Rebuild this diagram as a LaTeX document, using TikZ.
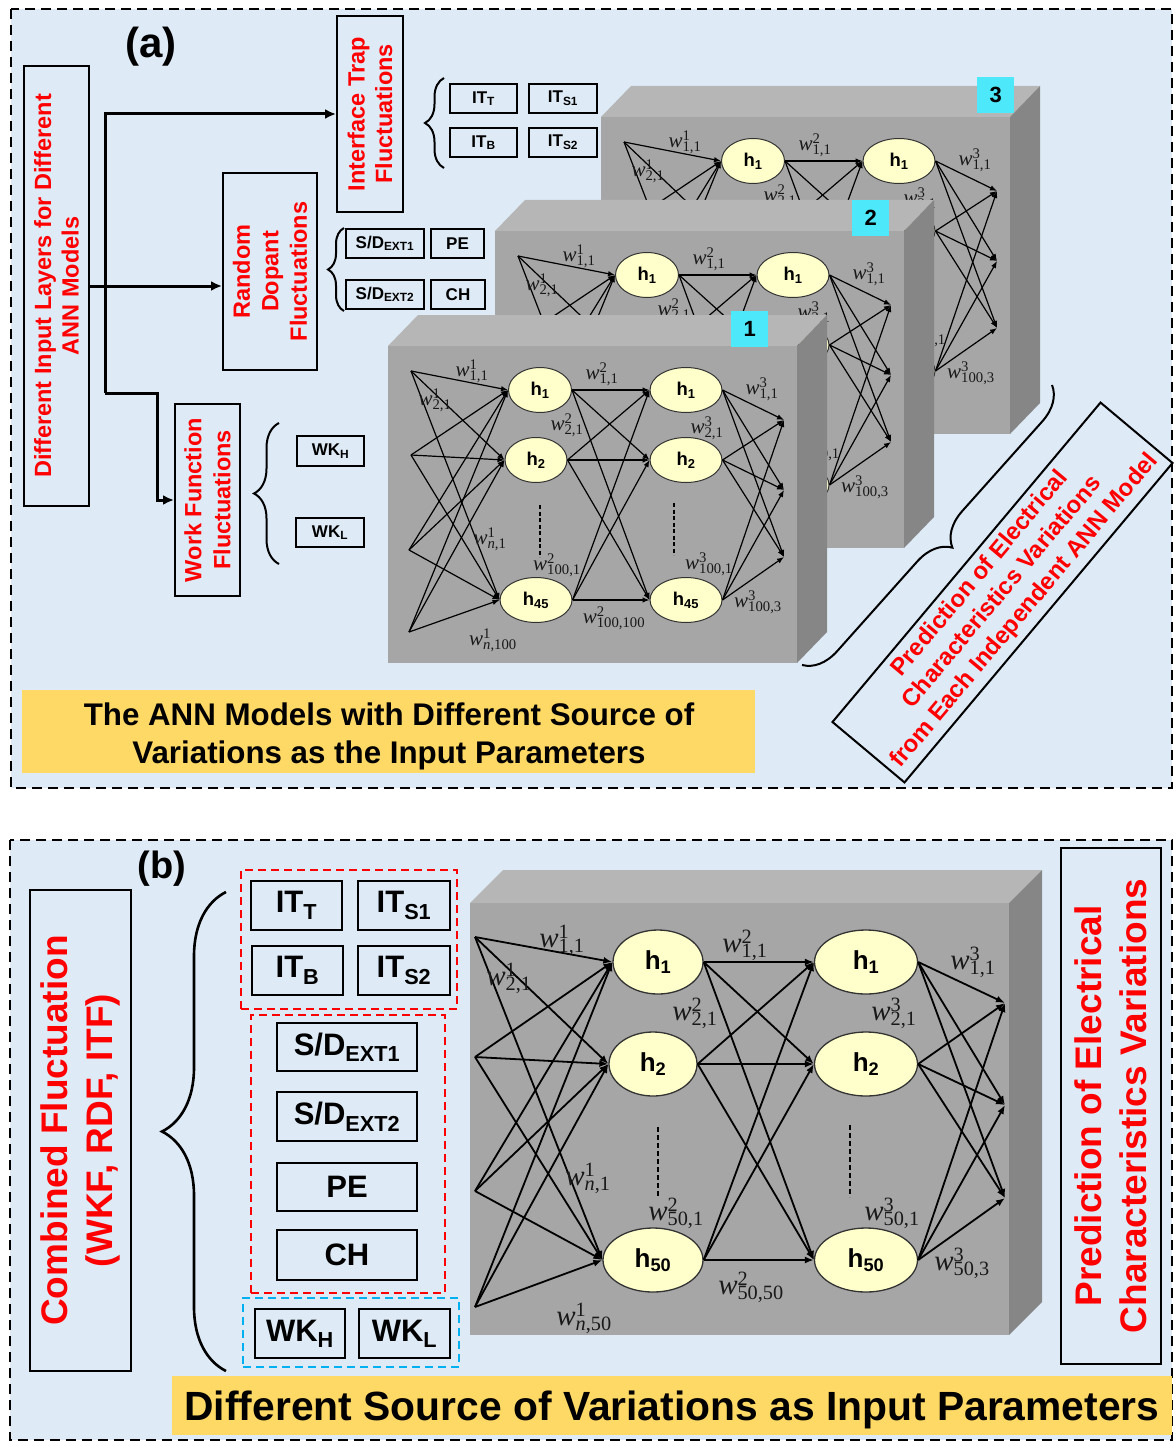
\documentclass[tikz,border=0pt]{standalone}
\usepackage[no-math]{fontspec}
\setmainfont{Liberation Sans}
\newfontfamily\wserif{Liberation Serif}
\usetikzlibrary{arrows.meta,decorations.pathreplacing,shapes.geometric}

\definecolor{panelbg}{HTML}{DEEBF7}
\definecolor{capyellow}{HTML}{FFD966}
\definecolor{cubefront}{RGB}{166,166,166}
\definecolor{cubetop}{RGB}{182,182,182}
\definecolor{cubeside}{RGB}{134,134,134}
\definecolor{nodefill}{RGB}{255,255,204}
\definecolor{tagcyan}{RGB}{77,233,250}
\definecolor{wkblue}{RGB}{0,176,240}
\definecolor{wtext}{RGB}{25,25,25}

\newcommand{\fsz}[2]{\fontsize{#1}{#2}\selectfont}
% weight label: italic w with stacked layer index and link index
\newcommand{\wl}[2]{{\wserif\textit{w}\rlap{\textsuperscript{#1}}\textsubscript{#2}}}

\tikzset{
  panel/.style={fill=panelbg, draw=black, line width=2pt, dash pattern=on 10pt off 6pt},
  vbox/.style={draw=black, line width=2pt, rotate=90, align=center, text=red,
    font=\bfseries\fsz{23.5}{27.5}, inner sep=0pt},
  sboxA/.style={draw=black, line width=2pt, font=\bfseries\fsz{17}{20}, inner sep=0pt},
  sboxB/.style={draw=black, line width=2.6pt, font=\bfseries\fsz{31}{36}, inner sep=0pt},
  trunk/.style={line width=3pt},
  trunkarrow/.style={trunk, -{Latex[length=11pt,width=10pt]}},
  hnodeA/.style={ellipse, draw=black!80, line width=1pt, fill=nodefill, inner sep=0pt,
    minimum height=45, font=\bfseries\fsz{18.5}{20}},
  hnodeB/.style={ellipse, draw=black!80, line width=1.3pt, fill=nodefill, inner sep=0pt,
    minimum height=64, font=\bfseries\fsz{26}{28}},
  edgeA/.style={line width=1.2pt, -{Latex[length=7pt,width=5.5pt]}},
  edgeB/.style={line width=1.8pt, -{Latex[length=9pt,width=7pt]}},
  wA/.style={font=\fsz{21}{22}, text=wtext, inner sep=0pt},
  wB/.style={font=\fsz{29}{30}, text=wtext, inner sep=0pt},
  dotsA/.style={line width=1.3pt, dash pattern=on 4pt off 2.5pt},
  dotsB/.style={line width=1.8pt, dash pattern=on 5pt off 3pt},
  tag/.style={fill=tagcyan, font=\bfseries\fsz{22}{24}, minimum width=37, minimum height=36,
    inner sep=0pt, anchor=north west},
  brc/.style={decorate, decoration={brace, amplitude=#1}, line width=2pt},
  grp/.style={line width=2pt, dash pattern=on 8pt off 5pt, inner sep=0pt},
  capbox/.style={fill=capyellow, inner sep=0pt},
}

% one gray box of panel (a) with its network, drawn in the frame of the front box
\newcommand{\cubeA}[4]{%
  \fill[cubetop] (388,346) -- (418,315) -- (827,315) -- (797,346) -- cycle;
  \fill[cubeside] (797,346) -- (827,315) -- (827,632) -- (797,663) -- cycle;
  \fill[cubefront] (388,346) rectangle (797,663);
  \node[tag] (#1tag) at (#3,#4) {#2};
  \coordinate (#1i1) at (411,371);
  \coordinate (#1i2) at (411,455);
  \coordinate (#1i3) at (409,550);
  \coordinate (#1i4) at (409,632);
  \node[hnodeA, minimum width=63] (#1p1) at (540,390) {h\textsubscript{1}};
  \node[hnodeA, minimum width=62] (#1p2) at (536,460) {h\textsubscript{2}};
  \node[hnodeA, minimum width=72] (#1p3) at (536,600) {h\textsubscript{45}};
  \node[hnodeA, minimum width=72] (#1q1) at (686,390) {h\textsubscript{1}};
  \node[hnodeA, minimum width=72] (#1q2) at (686,460) {h\textsubscript{2}};
  \node[hnodeA, minimum width=72] (#1q3) at (686,600) {h\textsubscript{45}};
  \coordinate (#1o1) at (784,420);
  \coordinate (#1o2) at (784,490);
  \coordinate (#1o3) at (784,557);
  \foreach \s in {1,...,4}{\foreach \t in {1,2,3}{\draw[edgeA] (#1i\s) -- (#1p\t.west);}}
  \foreach \s in {1,2,3}{\foreach \t in {1,2,3}{\draw[edgeA] (#1p\s.east) -- (#1q\t.west);}}
  \foreach \s in {1,2,3}{\foreach \t in {1,2,3}{\draw[edgeA] (#1q\s.east) -- (#1o\t);}}
  \draw[dotsA] (540,505) -- (540,557);
  \draw[dotsA] (674,503) -- (674,555);
  \node[wA] (#1w1) at (472,371) {\wl{1}{1,1}};
  \node[wA] (#1w2) at (435,400) {\wl{1}{2,1}};
  \node[wA] (#1w3) at (602,374) {\wl{2}{1,1}};
  \node[wA] (#1w4) at (567,425) {\wl{2}{2,1}};
  \node[wA] (#1w5) at (762,389) {\wl{3}{1,1}};
  \node[wA] (#1w6) at (707,428) {\wl{3}{2,1}};
  \node[wA] (#1w7) at (490,539) {\wl{1}{\textit{n},1}};
  \node[wA] (#1w8) at (557,565) {\wl{2}{100,1}};
  \node[wA] (#1w9) at (709,564) {\wl{3}{100,1}};
  \node[wA] (#1w10) at (758,602) {\wl{3}{100,3}};
  \node[wA] (#1w11) at (614,618) {\wl{2}{100,100}};
  \node[wA] (#1w12) at (493,640) {\wl{1}{\textit{n},100}};
}

\begin{document}
\begin{tikzpicture}[x=1pt,y=-1pt]
\useasboundingbox (0,0) rectangle (1175,1442);
\fill[white] (0,0) rectangle (1175,1442);

%% ---------------- panel (a) ----------------
\draw[panel] (11,9) rectangle (1172,788);
\node[font=\bfseries\fsz{42}{46}] (labA) at (151,47) {(a)};

\node[vbox, minimum width=440, minimum height=65] (dil) at (56.5,286)
  {Different Input Layers for Different\\ANN Models};
\node[vbox, minimum width=196, minimum height=66] (itf) at (370,114)
  {Interface Trap\\Fluctuations};
\node[vbox, minimum width=197, minimum height=94, font=\bfseries\fsz{23.5}{28.5}] (rdf) at (270,271.5)
  {Random\\Dopant\\Fluctuations};
\node[vbox, minimum width=192, minimum height=65, font=\bfseries\fsz{23.5}{29}] (wkf) at (207.5,500)
  {Work Function\\Fluctuations};

% feeding lines
\coordinate (tTop) at (105,114);
\coordinate (tMid) at (105,286);
\coordinate (tBot) at (105,393);
\coordinate (tBend) at (157,393);
\draw[trunkarrow] (tBot) -- (tTop) -- (itf.north |- tTop);
\draw[trunkarrow] (dil.south |- tMid) -- (rdf.north |- tMid);
\draw[trunkarrow] (tBot) -- (tBend) -- (tBend |- wkf.north) -- (wkf.north);

% parameter boxes of each fluctuation source
\node[sboxA, minimum width=67, minimum height=29] (aitT) at (483.5,98.5) {IT\textsubscript{T}};
\node[sboxA, minimum width=68, minimum height=29] (aitS1) at (563,98.5) {IT\textsubscript{S1}};
\node[sboxA, minimum width=67, minimum height=29] (aitB) at (483.5,142.5) {IT\textsubscript{B}};
\node[sboxA, minimum width=68, minimum height=29] (aitS2) at (563,142.5) {IT\textsubscript{S2}};
\node[sboxA, minimum width=78, minimum height=29] (asd1) at (385,243.5) {S/D\textsubscript{EXT1}};
\node[sboxA, minimum width=53, minimum height=29] (ape) at (457.5,243.5) {PE};
\node[sboxA, minimum width=78, minimum height=29] (asd2) at (385,294.5) {S/D\textsubscript{EXT2}};
\node[sboxA, minimum width=54, minimum height=29] (ach) at (458,294.5) {CH};
\node[sboxA, minimum width=67, minimum height=30] (awkH) at (330.5,451) {WK\textsubscript{H}};
\node[sboxA, minimum width=68, minimum height=29] (awkL) at (330,532.5) {WK\textsubscript{L}};

\coordinate (bIT1) at (444,168); \coordinate (bIT2) at (444,78);
\coordinate (bRD1) at (344,311); \coordinate (bRD2) at (344,228);
\coordinate (bWK1) at (279,564); \coordinate (bWK2) at (279,423);
\draw[brc=19] (bIT1) -- (bIT2);
\draw[brc=16] (bRD1) -- (bRD2);
\draw[brc=25] (bWK1) -- (bWK2);

% three independent ANN models, back to front
\begin{scope}[shift={(213,-229)}]
  \cubeA{cc}{3}{764}{306}
\end{scope}
\begin{scope}[shift={(107,-115)}]
  \cubeA{cb}{2}{745}{315}
\end{scope}
\cubeA{ca}{1}{731}{311}

% outputs of the three models
\coordinate (bOut1) at (1052,385); \coordinate (bOut2) at (802,665);
\draw[brc=34] (bOut1) -- (bOut2);
\node[draw=black, line width=2pt, rotate=50, minimum width=417, minimum height=94, align=center,
  text=red, font=\bfseries\fsz{24}{29}, inner sep=0pt] (predA) at (1002.5,592.5)
  {Prediction of Electrical\\Characteristics Variations\\from Each Independent ANN Model};

\node[capbox, minimum width=733, minimum height=83] (capA) at (388.5,731.5) {};
\node[align=center, inner sep=0pt, font=\bfseries\fsz{31.3}{38}] (capAtext) at (389,736)
  {The ANN Models with Different Source of\\Variations as the Input Parameters};

%% ---------------- panel (b) ----------------
\draw[panel] (10,840) rectangle (1172,1440);
\node[font=\bfseries\fsz{38}{42}] (labB) at (162,869) {(b)};

\node[draw=black, line width=2.6pt, rotate=90, align=center, text=red, inner sep=0pt,
  minimum width=481, minimum height=101, font=\bfseries\fsz{37}{45}] (comb) at (80.5,1130.5)
  {Combined Fluctuation\\(WKF, RDF, ITF)};
\coordinate (bCb1) at (226,1371); \coordinate (bCb2) at (226,892);
\draw[brc=64, line width=2.6pt] (bCb1) -- (bCb2);

\node[grp, draw=red, minimum width=216, minimum height=139] (grpIT) at (349,939.5) {};
\node[grp, draw=red, minimum width=194, minimum height=278] (grpRD) at (348,1154) {};
\node[grp, draw=wkblue, minimum width=216, minimum height=69] (grpWK) at (351,1332.5) {};

\node[sboxB, minimum width=91, minimum height=49] (bitT) at (296.5,905.5) {IT\textsubscript{T}};
\node[sboxB, minimum width=92, minimum height=49] (bitS1) at (404,905.5) {IT\textsubscript{S1}};
\node[sboxB, minimum width=91, minimum height=49] (bitB) at (297.5,970.5) {IT\textsubscript{B}};
\node[sboxB, minimum width=92, minimum height=49] (bitS2) at (404,970.5) {IT\textsubscript{S2}};
\node[sboxB, minimum width=140, minimum height=48] (bsd1) at (347,1047) {S/D\textsubscript{EXT1}};
\node[sboxB, minimum width=140, minimum height=49] (bsd2) at (347,1116.5) {S/D\textsubscript{EXT2}};
\node[sboxB, minimum width=140, minimum height=48] (bpe) at (347,1187) {PE};
\node[sboxB, minimum width=140, minimum height=50] (bch) at (347,1255) {CH};
\node[sboxB, minimum width=90, minimum height=49] (bwkH) at (300,1333.5) {WK\textsubscript{H}};
\node[sboxB, minimum width=91, minimum height=49] (bwkL) at (404.5,1333.5) {WK\textsubscript{L}};

% combined ANN model
\fill[cubetop] (470,903) -- (503,870) -- (1042,870) -- (1009,903) -- cycle;
\fill[cubeside] (1009,903) -- (1042,870) -- (1042,1302) -- (1009,1335) -- cycle;
\fill[cubefront] (470,903) rectangle (1009,1335);

\coordinate (bi1) at (475,937);
\coordinate (bi2) at (475,1057);
\coordinate (bi3) at (475,1191);
\coordinate (bi4) at (475,1307);
\node[hnodeB, minimum width=90] (bp1) at (658,962) {h\textsubscript{1}};
\node[hnodeB, minimum width=88] (bp2) at (653,1064) {h\textsubscript{2}};
\node[hnodeB, minimum width=100] (bp3) at (653,1260) {h\textsubscript{50}};
\node[hnodeB, minimum width=103] (bq1) at (866,962) {h\textsubscript{1}};
\node[hnodeB, minimum width=103] (bq2) at (866,1064) {h\textsubscript{2}};
\node[hnodeB, minimum width=103] (bq3) at (866,1260) {h\textsubscript{50}};
\coordinate (bo1) at (1005,1003);
\coordinate (bo2) at (1005,1105);
\coordinate (bo3) at (1005,1198);
\foreach \s in {1,...,4}{\foreach \t in {1,2,3}{\draw[edgeB] (bi\s) -- (bp\t.west);}}
\foreach \s in {1,2,3}{\foreach \t in {1,2,3}{\draw[edgeB] (bp\s.east) -- (bq\t.west);}}
\foreach \s in {1,2,3}{\foreach \t in {1,2,3}{\draw[edgeB] (bq\s.east) -- (bo\t);}}
\draw[dotsB] (658,1127) -- (658,1198);
\draw[dotsB] (850,1125) -- (850,1197);

\node[wB] (bw1) at (562,940) {\wl{1}{1,1}};
\node[wB] (bw2) at (509,978) {\wl{1}{2,1}};
\node[wB] (bw3) at (745,945) {\wl{2}{1,1}};
\node[wB] (bw4) at (695,1013) {\wl{2}{2,1}};
\node[wB] (bw5) at (973,962) {\wl{3}{1,1}};
\node[wB] (bw6) at (894,1013) {\wl{3}{2,1}};
\node[wB] (bw7) at (588,1178) {\wl{1}{\textit{n},1}};
\node[wB] (bw8) at (676,1213) {\wl{2}{50,1}};
\node[wB] (bw9) at (892,1213) {\wl{3}{50,1}};
\node[wB] (bw10) at (962,1263) {\wl{3}{50,3}};
\node[wB] (bw11) at (751,1287) {\wl{2}{50,50}};
\node[wB] (bw12) at (584,1318) {\wl{1}{\textit{n},50}};

\node[draw=black, line width=2.6pt, rotate=90, align=center, text=red, inner sep=0pt,
  minimum width=516, minimum height=100, font=\bfseries\fsz{37}{45}] (predB) at (1111,1106)
  {Prediction of Electrical\\Characteristics Variations};

\node[capbox, minimum width=1000, minimum height=59] (capB) at (672,1405.5) {};
\node[inner sep=0pt, font=\bfseries\fsz{40.8}{44}] (capBtext) at (672,1410)
  {Different Source of Variations as Input Parameters};
\end{tikzpicture}
\end{document}
